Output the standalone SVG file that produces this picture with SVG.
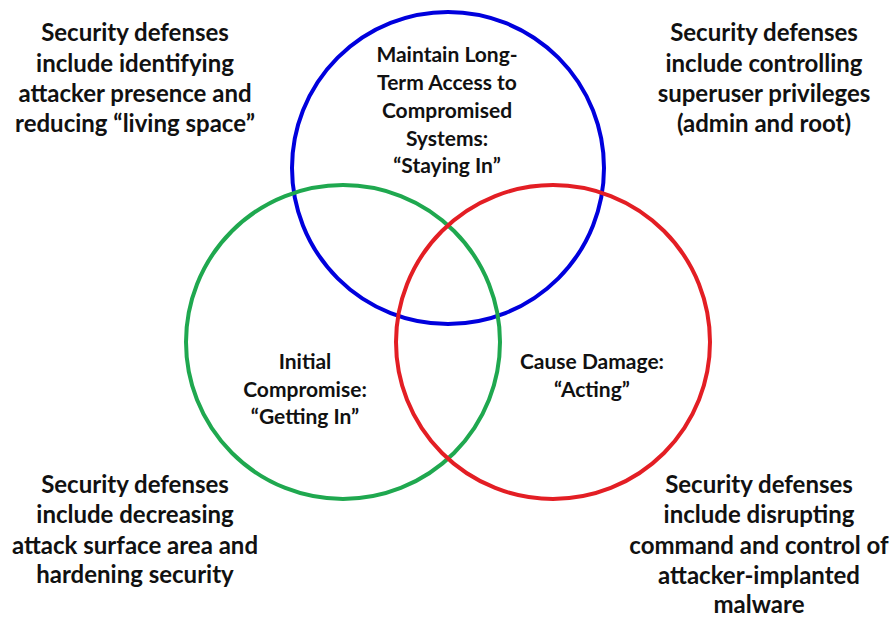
<svg xmlns="http://www.w3.org/2000/svg" width="895" height="619" viewBox="0 0 895 619">
<style>
.c{fill:none;stroke-width:4}
.t{font-family:Lato,"Open Sans","Liberation Sans",sans-serif;font-weight:bold;fill:#111;text-anchor:middle}
.o{font-size:24px}
.i{font-size:21px}
</style>
<rect width="895" height="619" fill="#fff"/>
<g id="staying-in">
<circle class="c" cx="448" cy="168" r="156" stroke="#0000dd"/>
<text class="t i" x="447"><tspan x="447" y="62">Maintain Long-</tspan><tspan x="447" y="90">Term Access to</tspan><tspan x="447" y="118">Compromised</tspan><tspan x="447" y="146">Systems:</tspan><tspan x="447" y="173">“Staying In”</tspan></text>
</g>
<g id="getting-in">
<circle class="c" cx="343" cy="342" r="157" stroke="#1fa84f"/>
<text class="t i"><tspan x="305" y="369">Initial</tspan><tspan x="305" y="397">Compromise:</tspan><tspan x="305" y="424">“Getting In”</tspan></text>
</g>
<g id="acting">
<circle class="c" cx="553" cy="342" r="157" stroke="#e31e24"/>
<text class="t i"><tspan x="592" y="369">Cause Damage:</tspan><tspan x="592" y="397">“Acting”</tspan></text>
</g>
<g id="note-top-left">
<text class="t o"><tspan x="135" y="41">Security defenses</tspan><tspan x="135" y="72">include identifying</tspan><tspan x="135" y="102">attacker presence and</tspan><tspan x="135" y="132">reducing “living space”</tspan></text>
</g>
<g id="note-top-right">
<text class="t o"><tspan x="764" y="41">Security defenses</tspan><tspan x="764" y="72">include controlling</tspan><tspan x="764" y="102">superuser privileges</tspan><tspan x="764" y="132">(admin and root)</tspan></text>
</g>
<g id="note-bottom-left">
<text class="t o"><tspan x="135" y="493">Security defenses</tspan><tspan x="135" y="523">include decreasing</tspan><tspan x="135" y="554">attack surface area and</tspan><tspan x="135" y="583">hardening security</tspan></text>
</g>
<g id="note-bottom-right">
<text class="t o"><tspan x="759" y="493">Security defenses</tspan><tspan x="759" y="523">include disrupting</tspan><tspan x="759" y="554">command and control of</tspan><tspan x="759" y="584">attacker-implanted</tspan><tspan x="759" y="613">malware</tspan></text>
</g>
<g id="connectors"></g>
</svg>
